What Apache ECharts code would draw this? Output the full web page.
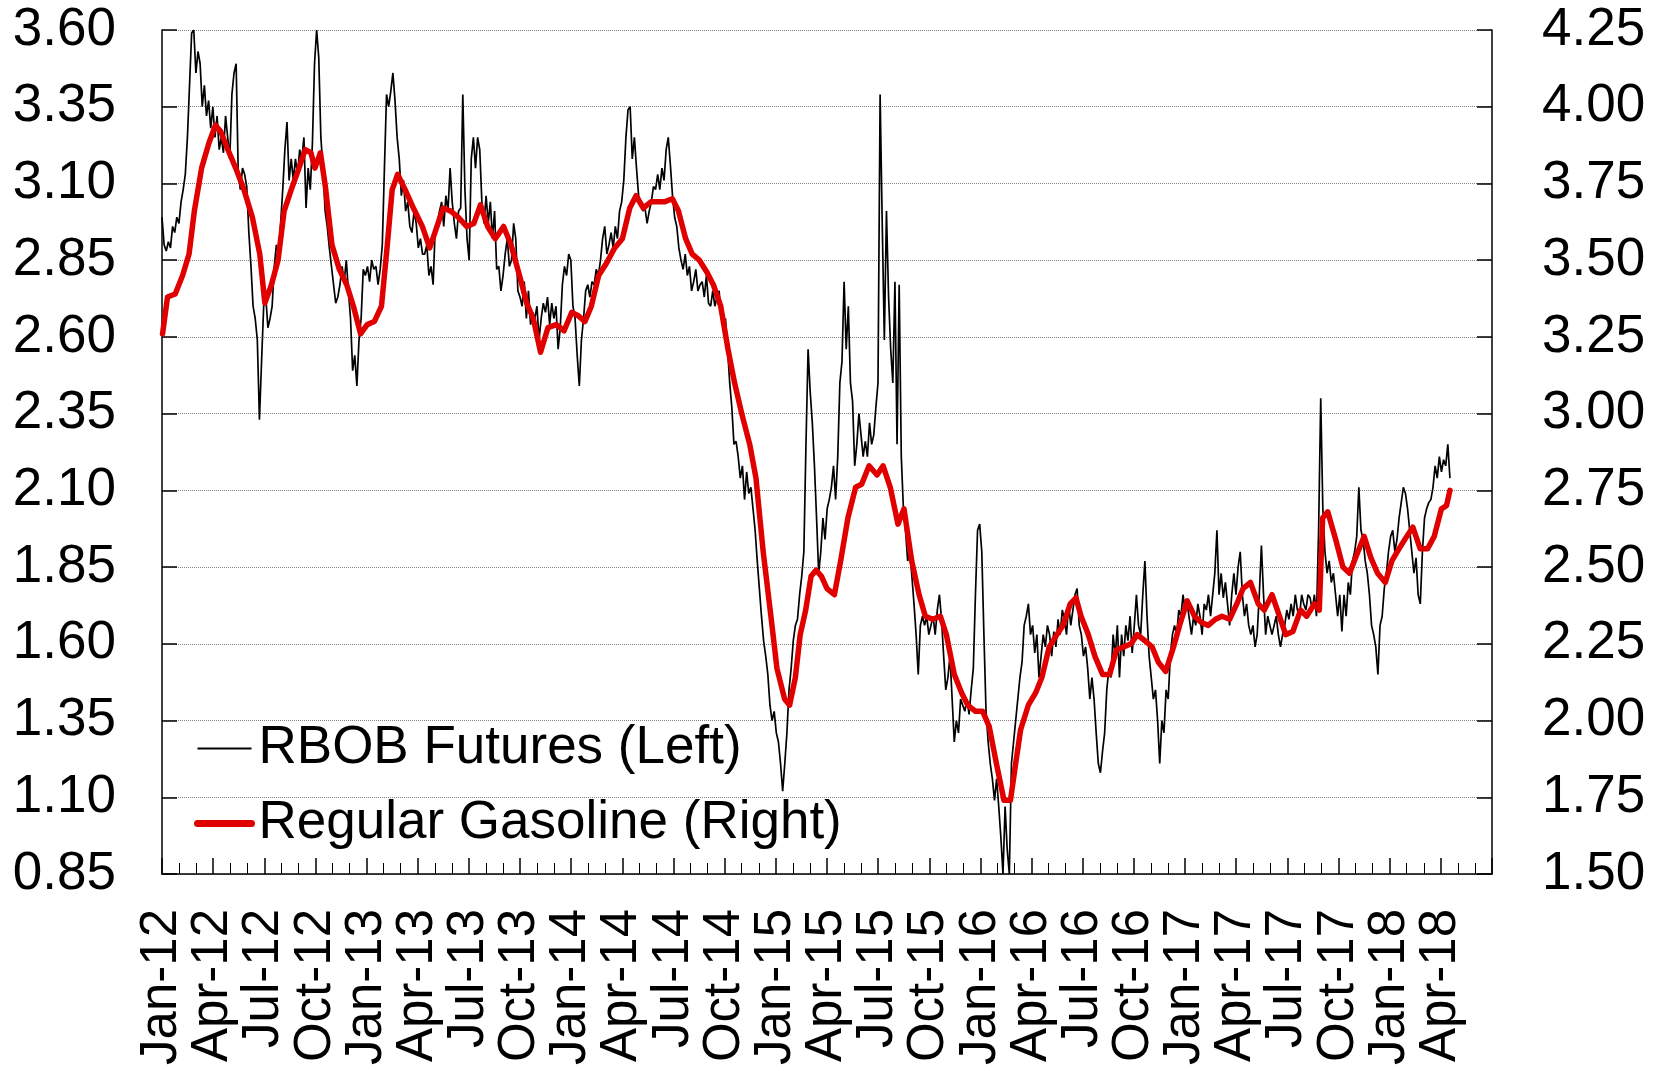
<!DOCTYPE html>
<html>
<head>
<meta charset="utf-8">
<script src="https://cdn.jsdelivr.net/npm/echarts@6/dist/echarts.min.js"></script>
<style>
  html, body { margin: 0; padding: 0; background: #fff; }
  #chart { width: 1662px; height: 1071px; }
</style>
</head>
<body>
<div id="chart"></div>
<script>
// Quarterly tick labels along the date axis (Jan-12 .. Apr-18)
const quarterLabels = [
  'Jan-12','Apr-12','Jul-12','Oct-12','Jan-13','Apr-13','Jul-13','Oct-13',
  'Jan-14','Apr-14','Jul-14','Oct-14','Jan-15','Apr-15','Jul-15','Oct-15',
  'Jan-16','Apr-16','Jul-16','Oct-16','Jan-17','Apr-17','Jul-17','Oct-17',
  'Jan-18','Apr-18'
];

// Left axis tick values ($/gal, RBOB futures)
const leftTicks = [0.85, 1.10, 1.35, 1.60, 1.85, 2.10, 2.35, 2.60, 2.85, 3.10, 3.35, 3.60];

// RBOB gasoline futures, front month, $/gal — readings spaced evenly
// between the first and last date below
const rbobFirstDate = '2012-01-01';
const rbobLastDate = '2018-04-17';
const rbobPrices = [
  2.99,2.90,2.88,2.91,2.89,2.96,2.94,2.99,2.97,3.04,3.08,3.13,3.25,3.42,3.59,3.60,3.46,3.53,3.49,3.35,
  3.42,3.32,3.37,3.28,3.35,3.25,3.32,3.21,3.25,3.20,3.32,3.25,3.18,3.39,3.46,3.49,3.13,3.08,3.15,3.13,
  3.09,2.94,2.83,2.70,2.66,2.59,2.33,2.52,2.70,2.73,2.63,2.66,2.70,2.83,2.90,2.87,2.97,3.08,3.21,3.30,
  3.11,3.18,3.11,3.18,3.13,3.21,3.18,3.25,3.02,3.15,3.08,3.23,3.49,3.60,3.51,3.25,3.15,3.01,2.96,2.89,
  2.83,2.77,2.71,2.73,2.77,2.83,2.78,2.85,2.75,2.66,2.49,2.54,2.44,2.59,2.66,2.82,2.80,2.83,2.78,2.85,
  2.82,2.83,2.77,2.82,2.90,3.15,3.39,3.35,3.40,3.46,3.37,3.25,3.18,3.06,3.11,3.01,3.04,2.96,2.94,3.01,
  2.97,2.89,2.92,2.87,2.87,2.90,2.80,2.83,2.77,2.96,2.97,3.01,3.04,2.96,3.06,3.01,3.15,3.04,2.97,2.92,
  3.01,3.02,3.39,3.08,2.92,2.85,3.18,3.25,3.15,3.25,3.21,3.04,2.97,3.06,2.97,3.04,2.92,3.01,2.82,2.83,
  2.75,2.80,2.87,2.92,2.83,2.85,2.97,2.92,2.75,2.73,2.70,2.78,2.66,2.75,2.64,2.68,2.66,2.70,2.59,2.66,
  2.71,2.68,2.73,2.64,2.71,2.66,2.70,2.56,2.63,2.77,2.83,2.80,2.87,2.85,2.70,2.66,2.54,2.44,2.59,2.66,
  2.75,2.77,2.73,2.78,2.77,2.82,2.80,2.85,2.92,2.96,2.87,2.90,2.94,2.89,2.96,2.92,3.01,3.04,3.11,3.25,
  3.34,3.35,3.18,3.25,3.15,3.06,3.04,3.01,3.02,2.97,3.01,3.04,3.09,3.08,3.13,3.08,3.15,3.11,3.21,3.25,
  3.16,3.06,2.99,2.96,2.89,2.85,2.82,2.87,2.80,2.83,2.75,2.78,2.82,2.75,2.77,2.78,2.73,2.80,2.71,2.70,
  2.75,2.70,2.73,2.75,2.66,2.64,2.66,2.56,2.45,2.37,2.25,2.26,2.21,2.14,2.18,2.07,2.16,2.09,2.11,2.04,
  1.97,1.87,1.78,1.69,1.61,1.56,1.50,1.40,1.35,1.38,1.31,1.28,1.21,1.12,1.21,1.31,1.45,1.52,1.61,1.66,
  1.68,1.76,1.82,1.90,2.25,2.56,2.42,2.32,2.18,2.01,1.83,1.90,2.01,1.94,2.04,2.07,2.11,2.18,2.07,2.21,
  2.45,2.52,2.78,2.56,2.70,2.45,2.39,2.18,2.25,2.35,2.28,2.21,2.26,2.21,2.32,2.25,2.28,2.37,2.45,3.39,
  2.97,2.59,3.01,2.73,2.56,2.45,2.78,2.25,2.77,2.21,2.04,1.97,1.87,1.90,1.82,1.73,1.63,1.50,1.66,1.69,
  1.66,1.69,1.63,1.66,1.69,1.63,1.71,1.76,1.68,1.56,1.45,1.49,1.56,1.42,1.28,1.35,1.31,1.42,1.40,1.38,
  1.42,1.37,1.45,1.52,1.76,1.97,1.99,1.90,1.63,1.38,1.28,1.21,1.16,1.09,1.16,1.07,0.97,0.85,1.07,0.93,
  0.85,1.21,1.28,1.35,1.42,1.49,1.54,1.66,1.69,1.73,1.63,1.66,1.57,1.63,1.49,1.56,1.63,1.59,1.66,1.63,
  1.56,1.64,1.59,1.68,1.63,1.71,1.68,1.63,1.73,1.66,1.71,1.76,1.78,1.66,1.63,1.56,1.59,1.52,1.42,1.49,
  1.42,1.31,1.21,1.18,1.25,1.31,1.45,1.52,1.49,1.63,1.56,1.66,1.49,1.63,1.56,1.66,1.61,1.69,1.57,1.66,
  1.76,1.66,1.63,1.76,1.87,1.69,1.56,1.49,1.42,1.45,1.35,1.21,1.35,1.31,1.45,1.42,1.56,1.63,1.66,1.63,
  1.71,1.69,1.76,1.71,1.73,1.68,1.63,1.69,1.66,1.73,1.69,1.63,1.73,1.71,1.76,1.69,1.76,1.83,1.97,1.76,
  1.83,1.75,1.80,1.73,1.66,1.76,1.83,1.76,1.85,1.90,1.76,1.69,1.73,1.66,1.63,1.66,1.59,1.63,1.76,1.92,
  1.76,1.63,1.69,1.66,1.63,1.66,1.69,1.63,1.59,1.63,1.66,1.71,1.68,1.73,1.69,1.76,1.71,1.69,1.76,1.73,
  1.71,1.76,1.75,1.71,1.76,1.69,1.97,2.40,2.04,1.90,1.83,1.87,1.80,1.83,1.76,1.69,1.76,1.64,1.76,1.69,
  1.80,1.76,1.87,1.90,1.95,2.11,1.97,1.94,1.87,1.83,1.76,1.66,1.63,1.59,1.50,1.66,1.69,1.78,1.83,1.90,
  1.95,1.97,1.90,1.94,2.01,2.06,2.11,2.09,2.04,1.97,1.90,1.83,1.88,1.76,1.73,1.90,2.01,2.04,2.06,2.07,
  2.11,2.18,2.14,2.21,2.16,2.20,2.18,2.25,2.14
];

// U.S. regular retail gasoline, $/gal
const gasDates = [
  '2012-01-02','2012-01-11','2012-01-25','2012-02-07','2012-02-18','2012-02-27','2012-03-11','2012-03-24',
  '2012-04-05','2012-04-14','2012-04-27','2012-05-11','2012-05-26','2012-06-10','2012-06-23','2012-07-02',
  '2012-07-14','2012-07-26','2012-08-06','2012-08-19','2012-09-02','2012-09-13','2012-09-23','2012-09-30',
  '2012-10-10','2012-10-19','2012-10-31','2012-11-13','2012-11-26','2012-12-08','2012-12-21',
  '2013-01-02','2013-01-15','2013-01-28','2013-02-07','2013-02-15','2013-02-24','2013-03-09','2013-03-24',
  '2013-04-09','2013-04-22','2013-05-05','2013-05-16','2013-05-30','2013-06-12','2013-06-27','2013-07-10',
  '2013-07-22','2013-08-04','2013-08-18','2013-09-02','2013-09-15','2013-09-30','2013-10-13','2013-10-25',
  '2013-11-07','2013-11-20','2013-12-05','2013-12-19',
  '2014-01-02','2014-01-13','2014-01-26','2014-02-06','2014-02-18','2014-03-03','2014-03-18','2014-04-01',
  '2014-04-14','2014-04-25','2014-05-08','2014-05-22','2014-06-02','2014-06-15','2014-06-29','2014-07-10',
  '2014-07-23','2014-08-04','2014-08-17','2014-08-31','2014-09-11','2014-09-24','2014-10-07','2014-10-19',
  '2014-11-01','2014-11-15','2014-11-26','2014-12-09','2014-12-23',
  '2015-01-03','2015-01-17','2015-01-26','2015-02-05','2015-02-13','2015-02-22','2015-03-03','2015-03-12',
  '2015-03-22','2015-04-01','2015-04-14','2015-04-25','2015-05-08','2015-05-22','2015-06-02','2015-06-15',
  '2015-06-29','2015-07-10','2015-07-23','2015-08-06','2015-08-17','2015-08-31','2015-09-13','2015-09-24',
  '2015-10-07','2015-10-21','2015-11-01','2015-11-15','2015-11-28','2015-12-09','2015-12-23',
  '2016-01-05','2016-01-17','2016-01-30','2016-02-12','2016-02-23','2016-03-03','2016-03-12','2016-03-26',
  '2016-04-08','2016-04-19','2016-05-02','2016-05-16','2016-05-27','2016-06-09','2016-06-19','2016-06-28',
  '2016-07-11','2016-07-23','2016-08-06','2016-08-19','2016-08-31','2016-09-13','2016-09-26','2016-10-07',
  '2016-10-21','2016-11-03','2016-11-14','2016-11-27','2016-12-11','2016-12-22',
  '2017-01-05','2017-01-18','2017-01-30','2017-02-11','2017-02-23','2017-03-06','2017-03-20','2017-04-02',
  '2017-04-13','2017-04-26','2017-05-10','2017-05-21','2017-06-04','2017-06-17','2017-06-28','2017-07-11',
  '2017-07-25','2017-08-05','2017-08-19','2017-08-28','2017-09-03','2017-09-12','2017-09-26','2017-10-09',
  '2017-10-21','2017-11-03','2017-11-16','2017-11-28','2017-12-10','2017-12-24',
  '2018-01-05','2018-01-18','2018-02-01','2018-02-11','2018-02-23','2018-03-08','2018-03-20','2018-04-02',
  '2018-04-11','2018-04-17'
];
const gasPrices = [
  3.26,3.38,3.39,3.45,3.52,3.66,3.80,3.88,
  3.94,3.92,3.86,3.80,3.73,3.64,3.52,3.36,
  3.42,3.50,3.66,3.73,3.80,3.86,3.85,3.80,
  3.85,3.74,3.55,3.47,3.42,3.35,3.26,
  3.29,3.30,3.35,3.55,3.73,3.78,3.73,3.67,
  3.61,3.54,3.61,3.67,3.66,3.64,3.61,3.62,
  3.68,3.61,3.57,3.61,3.55,3.45,3.36,3.31,
  3.20,3.28,3.29,3.27,
  3.33,3.32,3.30,3.35,3.45,3.49,3.54,3.57,
  3.67,3.71,3.67,3.69,3.69,3.69,3.70,3.66,
  3.57,3.52,3.50,3.46,3.42,3.35,3.21,3.10,
  3.00,2.90,2.79,2.55,2.34,
  2.17,2.07,2.05,2.14,2.28,2.36,2.47,2.49,
  2.47,2.43,2.41,2.52,2.66,2.76,2.77,2.83,
  2.80,2.83,2.76,2.64,2.69,2.52,2.41,2.34,
  2.33,2.34,2.28,2.15,2.09,2.05,2.03,
  2.03,1.98,1.86,1.74,1.74,1.86,1.97,2.05,
  2.09,2.14,2.24,2.28,2.31,2.38,2.40,2.34,
  2.28,2.21,2.15,2.15,2.23,2.24,2.25,2.28,
  2.26,2.24,2.19,2.16,2.24,2.31,
  2.39,2.34,2.32,2.31,2.33,2.34,2.33,2.38,
  2.43,2.45,2.38,2.36,2.41,2.34,2.28,2.29,
  2.36,2.34,2.38,2.36,2.66,2.68,2.59,2.50,
  2.48,2.54,2.60,2.53,2.48,2.45,
  2.52,2.56,2.60,2.63,2.56,2.56,2.60,2.69,
  2.70,2.75
];

// Position on the x axis: months elapsed since 1 Jan 2012
function monthsSince2012(dateStr) {
  const [y, m, d] = dateStr.split('-').map(Number);
  const daysInMonth = new Date(Date.UTC(y, m, 0)).getUTCDate();
  return (y - 2012) * 12 + (m - 1) + (d - 1) / daysInMonth;
}

const rbobStart = monthsSince2012(rbobFirstDate);
const rbobEnd = monthsSince2012(rbobLastDate);
const rbobStep = (rbobEnd - rbobStart) / (rbobPrices.length - 1);
const rbobData = rbobPrices.map((v, i) => [rbobStart + i * rbobStep, v]);
const gasData = gasDates.map((d, i) => [monthsSince2012(d), gasPrices[i]]);

const FONT = '"Liberation Sans", Arial, Helvetica, sans-serif';
const labelStyle = { color: '#000', fontSize: 53, fontFamily: FONT };

const chart = echarts.init(document.getElementById('chart'), null, { renderer: 'canvas' });
chart.setOption({
  animation: false,
  backgroundColor: '#fff',
  grid: { left: 162, right: 170, top: 30, bottom: 197, containLabel: false, outerBoundsMode: 'none' },
  legend: {
    orient: 'vertical',
    left: 194,
    top: 722,
    padding: 0,
    itemWidth: 54,
    itemHeight: 14,
    itemGap: 22,
    itemStyle: { opacity: 0 },
    textStyle: { color: '#000', fontSize: 53, fontFamily: FONT, padding: [0, 0, 0, 2] },
    data: [
      { name: 'RBOB Futures (Left)', lineStyle: { width: 2 } },
      { name: 'Regular Gasoline (Right)', lineStyle: { width: 7, cap: 'round' } }
    ]
  },
  xAxis: {
    type: 'value',
    min: 0,
    max: 78,
    interval: 3,
    axisLine: { show: true, lineStyle: { color: '#000', width: 1.5 } },
    axisTick: { show: true, inside: true, length: 16, lineStyle: { color: '#000', width: 1.5 } },
    minorTick: { show: true, splitNumber: 3, length: 11, lineStyle: { color: '#000', width: 1 } },
    splitLine: { show: false },
    axisLabel: {
      color: '#000',
      fontFamily: FONT,
      fontSize: 51,
      lineHeight: 44,
      rotate: 90,
      margin: 35,
      hideOverlap: false,
      showMaxLabel: false,
      formatter: v => quarterLabels[Math.round(v / 3)] || ''
    }
  },
  yAxis: [
    {
      type: 'value',
      position: 'left',
      min: 0.85,
      max: 3.60,
      axisLine: { show: true, lineStyle: { color: '#000', width: 1.5 } },
      axisTick: { show: true, inside: true, length: 15, customValues: leftTicks, lineStyle: { color: '#000', width: 1.5 } },
      axisLabel: { ...labelStyle, margin: 46, hideOverlap: false, showMinLabel: true, customValues: leftTicks, formatter: v => v.toFixed(2) },
      splitLine: { show: true, lineStyle: { color: '#808080', width: 1, type: [1, 1] } }
    },
    {
      type: 'value',
      position: 'right',
      min: 1.50,
      max: 4.25,
      interval: 0.25,
      axisLine: { show: true, lineStyle: { color: '#000', width: 1.5 } },
      axisTick: { show: true, inside: true, length: 15, lineStyle: { color: '#000', width: 1.5 } },
      axisLabel: { ...labelStyle, margin: 50, hideOverlap: false, showMinLabel: true, formatter: v => v.toFixed(2) },
      splitLine: { show: false }
    }
  ],
  series: [
    {
      name: 'RBOB Futures (Left)',
      type: 'line',
      yAxisIndex: 0,
      data: rbobData,
      symbol: 'none',
      lineStyle: { color: '#000', width: 1.7 },
      itemStyle: { color: '#000' },
      z: 2
    },
    {
      name: 'Regular Gasoline (Right)',
      type: 'line',
      yAxisIndex: 1,
      data: gasData,
      symbol: 'none',
      lineStyle: { color: '#e00000', width: 5.5, cap: 'round', join: 'round' },
      itemStyle: { color: '#e00000' },
      z: 3
    }
  ]
});
</script>
</body>
</html>
